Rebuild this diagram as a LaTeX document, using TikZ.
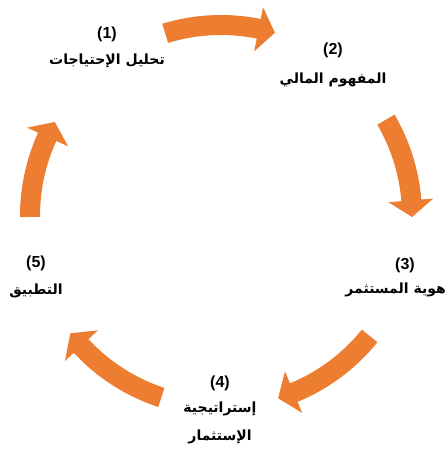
\documentclass[tikz,border=0pt]{standalone}
\usepackage{fontspec}
\setmainfont{Liberation Sans}
\newfontfamily\arabicfont[Script=Arabic]{DejaVu Sans}
\TeXXeTstate=1
\usetikzlibrary{positioning}
\definecolor{oranje}{HTML}{ED7D31}

% curved block arrow: start angle, tip angle
\newcommand{\cyclearrow}[2]{%
  \fill[pijl] (#1:201) arc[start angle=#1, end angle=#2+5, radius=201]
    -- (#2+5:213) -- (#2:191) -- (#2+5:168) -- (#2+5:181)
    arc[start angle=#2+5, end angle=#1, radius=181] -- cycle;}

\begin{document}
\begin{tikzpicture}[x=1pt,y=1pt]
\tikzstyle{pijl} = [fill=oranje]
\tikzstyle{nummer} = [font=\fontsize{16}{19}\selectfont\bfseries, inner sep=0pt]
\tikzstyle{stap} = [font=\arabicfont\bfseries\fontsize{14}{28}\selectfont, inner sep=0pt, align=center]

\useasboundingbox (0,0) rectangle (447,450);

\node [nummer] (een) at (107,416) {(1)};
\node [stap] (analyse) [below of=een, node distance=27pt] {\beginR تحليل الإحتياجات\endR};

\node [nummer] (twee) at (333,400) {(2)};
\node [stap] (concept) [below of=twee, node distance=30pt] {\beginR المفهوم المالي\endR};

\node [nummer] (drie) at (405,185) {(3)};
\node [stap, anchor=east] (identiteit) at (446,160) {\beginR هوية المستثمر\endR};

\node [nummer] (vier) at (220,67) {(4)};
\node [stap] (strategie) [below of=vier, node distance=40pt] {\beginR إستراتيجية\endR\\\beginR الإستثمار\endR};

\node [nummer] (vijf) at (36,187) {(5)};
\node [stap] (toepassing) [below of=vijf, node distance=28pt] {\beginR التطبيق\endR};

\begin{scope}[shift={(221,234)}]
\cyclearrow{107}{73.6}
\cyclearrow{30.3}{-0.3}
\cyclearrow{-38.9}{-72.6}
\cyclearrow{251.8}{217.9}
\cyclearrow{180.3}{150.5}
\end{scope}
\end{tikzpicture}
\end{document}
